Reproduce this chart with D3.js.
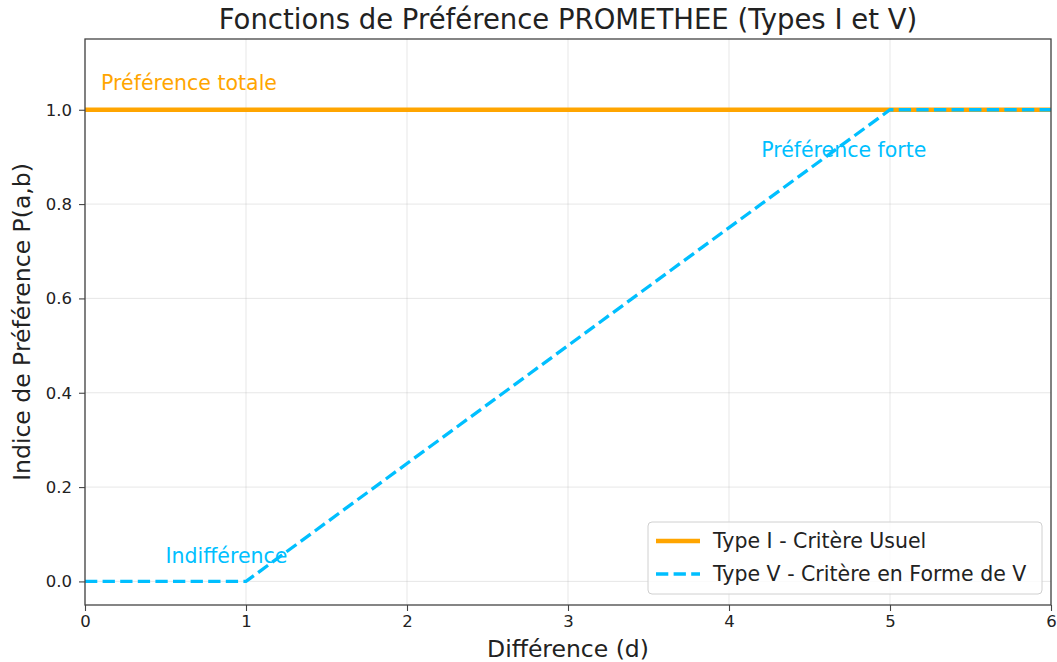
<!DOCTYPE html>
<meta charset="utf-8">
<script src="https://cdn.jsdelivr.net/npm/d3@7"></script>
<style>
  body { margin: 0; background: #fff; }
  svg text { font-family: "DejaVu Sans", sans-serif; }
</style>
<svg id="graph" width="1057" height="662"></svg>
<script>

// data
var dValues = [0, 1, 5, 6];
var typeI = [1, 1, 1, 1];
var typeV = [0, 0, 1, 1];
var xTicks = [0, 1, 2, 3, 4, 5, 6];
var yTicks = [0.0, 0.2, 0.4, 0.6, 0.8, 1.0];
var seriesNames = ["Type I - Critère Usuel", "Type V - Critère en Forme de V"];
var notes = [
  {text: "Préférence totale", d: 0.1, p: 1.057, color: "#ffa500"},
  {text: "Préférence forte", d: 4.2, p: 0.915, color: "#00bfff"},
  {text: "Indifférence", d: 0.5, p: 0.055, color: "#00bfff"}
];

var svg = d3.select("svg"),
    margin = {top: 39, right: 6, bottom: 57, left: 85},
    width = +svg.attr("width") - margin.left - margin.right,
    height = +svg.attr("height") - margin.top - margin.bottom,
    g = svg.append("g").attr("transform", "translate(" + margin.left + "," + margin.top + ")");

var x = d3.scaleLinear().domain([0, 6]).range([0, width]),
    y = d3.scaleLinear().domain([-0.05, 1.15]).range([height, 0]);

// grid
g.append("g").selectAll("line").data(xTicks).enter().append("line")
    .attr("x1", d => x(d)).attr("x2", d => x(d))
    .attr("y1", 0).attr("y2", height)
    .attr("stroke", "#b0b0b0").attr("stroke-opacity", 0.3).attr("stroke-width", 1);
g.append("g").selectAll("line").data(yTicks).enter().append("line")
    .attr("y1", d => y(d)).attr("y2", d => y(d))
    .attr("x1", 0).attr("x2", width)
    .attr("stroke", "#b0b0b0").attr("stroke-opacity", 0.3).attr("stroke-width", 1);

// axes
var xAxis = g.append("g")
    .attr("transform", "translate(0," + height + ")")
    .call(d3.axisBottom(x).tickValues(xTicks).tickSize(6).tickPadding(4).tickFormat(d3.format("d")));
var yAxis = g.append("g")
    .call(d3.axisLeft(y).tickValues(yTicks).tickSize(6).tickPadding(7).tickFormat(d3.format(".1f")));
[xAxis, yAxis].forEach(function(a) {
  a.select(".domain").remove();
  a.selectAll("line").attr("stroke", "#444").attr("stroke-width", 1.1);
  a.selectAll("text").attr("fill", "#222").style("font-size", "16.5px").style("font-family", "DejaVu Sans");
});

var line = d3.line().x(d => x(d[0])).y(d => y(d[1]));

g.append("path")
    .datum(dValues.map((d, i) => [d, typeI[i]]))
    .attr("d", line).attr("fill", "none")
    .attr("stroke", "#ffa500").attr("stroke-width", 4.5);

g.append("path")
    .datum(dValues.map((d, i) => [d, typeV[i]]))
    .attr("d", line).attr("fill", "none")
    .attr("stroke", "#00bfff").attr("stroke-width", 3.3)
    .attr("stroke-dasharray", "12.3,5.3");

// annotations
g.selectAll(".note").data(notes).enter().append("text")
    .attr("x", d => x(d.d)).attr("y", d => y(d.p))
    .attr("dy", "0.35em")
    .attr("fill", d => d.color)
    .style("font-size", "20.5px")
    .text(d => d.text);

// frame
g.append("rect").attr("width", width).attr("height", height)
    .attr("fill", "none").attr("stroke", "#444").attr("stroke-width", 1.3);

// title and labels
svg.append("text")
    .attr("x", margin.left + width / 2).attr("y", 29)
    .attr("text-anchor", "middle").attr("fill", "#222")
    .style("font-size", "27.5px")
    .text("Fonctions de Préférence PROMETHEE (Types I et V)");
svg.append("text")
    .attr("x", margin.left + width / 2).attr("y", 657)
    .attr("text-anchor", "middle").attr("fill", "#222")
    .style("font-size", "23.5px")
    .text("Différence (d)");
svg.append("text")
    .attr("transform", "translate(30," + (margin.top + height / 2) + ") rotate(-90)")
    .attr("text-anchor", "middle").attr("fill", "#222")
    .style("font-size", "23.5px")
    .text("Indice de Préférence P(a,b)");

// legend
var legend = g.append("g").attr("transform", "translate(" + (width - 403) + "," + (height - 83) + ")");
legend.append("rect")
    .attr("width", 394).attr("height", 72).attr("rx", 4)
    .attr("fill", "#fff").attr("fill-opacity", 0.8)
    .attr("stroke", "#d0d0d0");
var items = legend.selectAll(".item").data(seriesNames).enter().append("g")
    .attr("transform", (d, i) => "translate(0," + (19 + i * 33) + ")");
items.append("line")
    .attr("x1", 8).attr("x2", 52)
    .attr("stroke", (d, i) => i === 0 ? "#ffa500" : "#00bfff")
    .attr("stroke-width", (d, i) => i === 0 ? 4.5 : 3.3)
    .attr("stroke-dasharray", (d, i) => i === 0 ? null : "12.3,5.3");
items.append("text")
    .attr("x", 65).attr("dy", "0.35em")
    .attr("fill", "#222")
    .style("font-size", "20.5px")
    .text(d => d);

</script>
